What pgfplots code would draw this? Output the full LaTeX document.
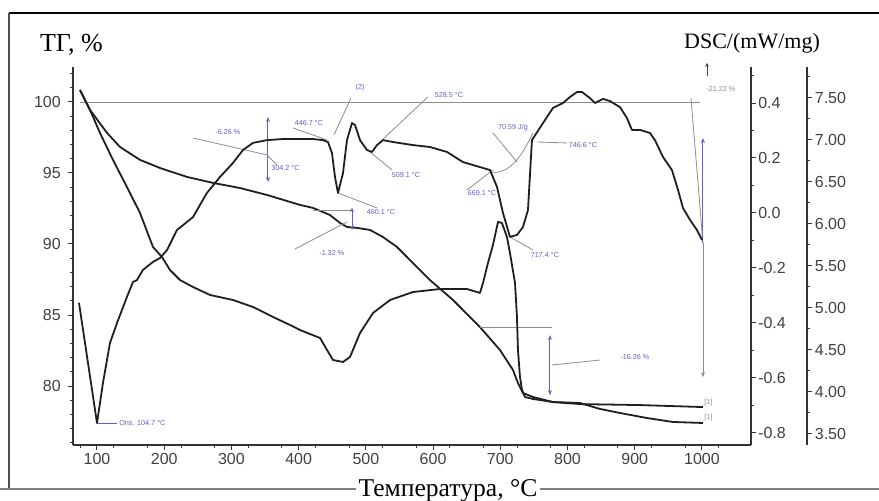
\documentclass[border=0pt]{standalone}
\usepackage{fontspec}
\setmainfont{Liberation Serif}
\setsansfont{Liberation Sans}
\usepackage{pgfplots}
\pgfplotsset{compat=1.18}
\usetikzlibrary{arrows.meta}

\definecolor{curve}{gray}{0.12}
\definecolor{annot}{gray}{0.55}
\definecolor{annblue}{RGB}{95,95,205}
\definecolor{ticktext}{gray}{0.25}

\pgfplotsset{
  tgframe/.style={
    scale only axis, width=339pt, height=189pt,
    at={(36.5pt,28pt)}, anchor=south west,
    xmin=64.3, xmax=1073,
    tick align=outside,
    major tick length=2.6pt, minor tick length=1.4pt,
    tick style={black!80, line width=0.5pt},
    axis line style={-, black!80, line width=0.8pt},
    tick label style={font=\sffamily\fontsize{8}{8}\selectfont, text=ticktext},
    /pgf/number format/assume math mode=true,
    /pgf/number format/1000 sep={},
    clip=false,
  },
  crv/.style={curve, line width=0.9pt, line join=round, no markers},
}
\tikzset{
  ann/.style={annot, line width=0.4pt},
  annb/.style={annblue, line width=0.5pt},
  annt/.style={font=\sffamily\fontsize{3.6}{4}\selectfont, inner sep=0.5pt},
}

\begin{document}
\begin{tikzpicture}[x=0.5pt,y=0.5pt]
\path[use as bounding box] (0,0) rectangle (879,501);

% outer frame
\draw[black, line width=1pt] (9,488) -- (879,488);
\draw[black!70, line width=0.8pt] (9,488) -- (9,12);
\draw[gray, line width=0.6pt] (0,12) -- (879,12);

% ---------- TG axis (left) ----------
\begin{axis}[tgframe,
  ymin=75.85, ymax=102.46,
  axis x line*=bottom, axis y line*=left,
  xtick={100,200,...,1000},
  minor xtick={75,125,...,1050},
  ytick={80,85,90,95,100},
  minor ytick={76,77,...,102},
  xticklabel style={yshift=2pt},
]
% mass loss curve, %
\addplot[crv] coordinates {
(74.7,100.85)(89.6,99.44)(114.9,97.82)(134.2,96.83)(164.0,95.92)(193.7,95.35)
(233.9,94.72)(272.6,94.30)(312.7,93.94)(352.9,93.45)(402.0,92.75)(421.3,92.54)
(446.6,92.04)(461.5,91.48)(471.9,91.20)(486.8,91.13)(506.1,90.99)(525.5,90.49)
(546.3,89.79)(570.1,88.66)(595.4,87.46)(629.6,86.06)(669.8,84.15)(699.5,82.54)
(718.9,81.13)(726.3,80.21)(733.8,79.51)(748.6,79.23)(778.4,78.87)(818.6,78.73)
(907.8,78.66)(1001.5,78.52)
};

% 100 % level and total loss
\draw[ann] (axis cs:74.7,100.0) -- (axis cs:997.1,100.0);
\draw[ann] (axis cs:983.7,100.28) -- (axis cs:1001.5,90.07);
\draw[annb,-{Stealth[length=2.5pt,width=2pt]}] (axis cs:1001.5,90.07) -- (axis cs:1001.5,97.46);
\draw[ann,-{Stealth[length=2.5pt,width=2pt]}] (axis cs:1001.5,90.07) -- (axis cs:1001.5,80.63);
\node[annt, annot, anchor=west] at (axis cs:1004.5,100.92) {-21.22 \%};

% step near 300 C
\draw[annb,{Stealth[length=2.5pt,width=2pt]}-{Stealth[length=2.5pt,width=2pt]}] (axis cs:354.4,98.94) -- (axis cs:354.4,94.37);
\draw[ann] (axis cs:242.8,97.46) -- (axis cs:352.9,96.27) -- (axis cs:367.8,95.56);
\node[annt, annblue] at (axis cs:294.9,97.89) {-6.26 \%};
\node[annt, annblue, anchor=west] at (axis cs:357.4,95.35) {304.2 °C};

% DSC event labels
\node[annt, annblue] at (axis cs:415.4,98.52) {446.7 °C};
\draw[ann] (axis cs:391.6,98.17) -- (axis cs:442.2,97.32);
\draw[ann] (axis cs:452.6,97.68) -- (axis cs:477.9,100.28);
\node[annt, annblue] at (axis cs:491.3,100.99) {(2)};
\node[annt, annblue] at (axis cs:623.7,100.49) {528.5 °C};
\draw[ann] (axis cs:592.4,100.35) -- (axis cs:524.0,97.32);
\node[annt, annblue] at (axis cs:559.7,94.86) {509.1 °C};
\draw[ann] (axis cs:506.1,96.48) -- (axis cs:538.9,95.21);
\node[annt, annblue] at (axis cs:522.5,92.25) {460.1 °C};
\draw[ann] (axis cs:458.5,93.59) -- (axis cs:516.6,92.54);

% step near 460 C
\draw[ann] (axis cs:421.3,92.39) -- (axis cs:479.4,92.39);
\draw[annb,{Stealth[length=2pt,width=2pt]}-{Stealth[length=2pt,width=2pt]}] (axis cs:479.4,92.54) -- (axis cs:479.4,90.99);
\node[annt, annblue] at (axis cs:449.6,89.37) {-1.32 \%};
\draw[ann] (axis cs:471.9,91.55) -- (axis cs:394.6,89.65);

% peak near 700 C
\node[annt, annblue] at (axis cs:672.8,93.59) {669.1 °C};
\draw[ann] (axis cs:689.1,95.21) -- (axis cs:650.4,93.80);
\node[annt, annblue] at (axis cs:718.9,98.17) {70.59 J/g};
\draw[ann] (axis cs:689.1,97.82) -- (axis cs:724.8,95.77);
\draw[ann] (axis cs:684.7,95.07) .. controls (axis cs:700,94.95) and (axis cs:722,95.1) .. (axis cs:748.6,97.82);
\node[annt, annblue] at (axis cs:766.5,89.23) {717.4 °C};
\draw[ann] (axis cs:714.4,90.49) -- (axis cs:748.6,89.58);
\node[annt, annblue] at (axis cs:823.0,96.97) {746.6 °C};
\draw[ann] (axis cs:754.6,97.18) -- (axis cs:799.2,97.11);

% step near 740 C
\draw[ann] (axis cs:669.8,84.15) -- (axis cs:776.9,84.15);
\draw[annb,{Stealth[length=2.5pt,width=2pt]}-{Stealth[length=2.5pt,width=2pt]}] (axis cs:773.9,83.59) -- (axis cs:773.9,79.37);
\draw[ann] (axis cs:776.9,81.48) -- (axis cs:848.3,81.83);
\node[annt, annblue] at (axis cs:900.4,82.04) {-16.26 \%};

% onset of the first endotherm
\draw[annb] (axis cs:100,77.39) -- (axis cs:129.8,77.39);
\node[annt, annblue, anchor=west] at (axis cs:131.2,77.39) {Ons. 104.7 °C};

% curve tags
\node[annt, annot, anchor=west] at (axis cs:1001.5,78.80) {[1]};
\node[annt, annot, anchor=west] at (axis cs:1001.5,77.75) {[1]};

% exo direction
\draw[black!70, line width=0.4pt, -{Stealth[length=2pt,width=2pt]}] (axis cs:1007.5,101.85) -- (axis cs:1007.5,102.75);
\end{axis}

% ---------- DSC axis (right) ----------
\begin{axis}[tgframe,
  ymin=-0.844, ymax=0.531,
  hide x axis, axis y line*=right,
  ytick={-0.8,-0.6,...,0.41},
  minor ytick={-0.7,-0.5,...,0.51},
  yticklabel style={xshift=-2.5pt, /pgf/number format/.cd, fixed, fixed zerofill, precision=1},
]
\addplot[crv] coordinates {
(73.2,-0.327)(100.0,-0.764)(108.9,-0.618)(119.3,-0.473)(129.8,-0.400)(144.6,-0.305)
(153.6,-0.251)(159.5,-0.244)(168.4,-0.207)(183.3,-0.178)(193.7,-0.164)(204.1,-0.135)
(219.0,-0.062)(242.8,-0.015)(263.6,0.073)(283.0,0.131)(302.3,0.182)(317.2,0.229)
(332.1,0.255)(352.9,0.265)(376.7,0.269)(402.0,0.269)(421.3,0.269)(436.2,0.265)
(443.7,0.258)(449.6,0.218)(454.1,0.131)(458.5,0.073)(466.0,0.145)(471.9,0.265)
(479.4,0.327)(483.8,0.320)(491.3,0.265)(501.7,0.229)(509.1,0.222)(516.6,0.247)
(525.5,0.265)(540.4,0.258)(570.1,0.247)(595.4,0.240)(620.7,0.222)(644.5,0.185)
(669.8,0.167)(684.7,0.156)(695.1,0.095)(704.0,0.000)(714.4,-0.087)(724.8,-0.080)
(733.8,-0.051)(741.2,0.011)(747.1,0.265)(763.5,0.327)(778.4,0.382)(793.3,0.400)
(803.7,0.422)(814.1,0.440)(821.5,0.440)(833.4,0.418)(840.9,0.400)(852.8,0.415)
(863.2,0.407)(878.1,0.385)(888.5,0.345)(895.9,0.302)(907.8,0.302)(922.7,0.291)
(930.1,0.265)(942.0,0.204)(955.4,0.156)(964.4,0.084)(971.8,0.018)(982.2,-0.025)
(992.6,-0.062)(1000.1,-0.098)
};
\end{axis}

% ---------- third scale: curve ----------
\begin{axis}[tgframe,
  ymin=3.369, ymax=7.869,
  hide x axis, hide y axis,
]
\addplot[crv] coordinates {
(74.7,7.595)(89.6,7.357)(104.5,7.083)(123.8,6.762)(144.6,6.440)(164.0,6.131)
(183.3,5.726)(196.7,5.607)(208.6,5.452)(223.5,5.333)(242.8,5.250)(268.1,5.155)
(302.3,5.095)(332.1,5.012)(361.8,4.893)(387.1,4.798)(402.0,4.738)(431.8,4.643)
(442.2,4.500)(451.1,4.381)(466.0,4.357)(476.4,4.417)(491.3,4.702)(510.6,4.940)
(535.9,5.095)(570.1,5.190)(610.3,5.226)(650.4,5.226)(665.3,5.190)(669.8,5.179)
(674.3,5.298)(681.7,5.536)(689.1,5.750)(696.6,6.024)(702.5,6.012)(709.9,5.845)
(714.4,5.655)(721.9,5.298)(724.8,4.893)(726.3,4.500)(729.3,4.179)(732.3,4.024)
(736.7,3.940)(748.6,3.917)(778.4,3.881)(818.6,3.869)(848.3,3.798)(878.1,3.750)
(918.2,3.690)(956.9,3.643)(1001.5,3.631)
};
\end{axis}

% its scale, set further right
\begin{axis}[tgframe, at={(64.5pt,28pt)},
  ymin=3.369, ymax=7.869,
  hide x axis, axis y line*=right,
  ytick={3.5,4,...,7.5},
  minor ytick={3.75,4.25,...,7.75},
  yticklabel style={xshift=-2.2pt, /pgf/number format/.cd, fixed, fixed zerofill, precision=2},
]
\end{axis}

% titles
\node[anchor=base west, font=\fontsize{13}{14}\selectfont] at (33,449) {ТГ, \%};
\node[anchor=base, font=\fontsize{11}{12}\selectfont] at (752,452) {DSC/(mW/mg)};
\node[anchor=base, fill=white, inner xsep=1.5pt, inner ysep=1pt, font=\fontsize{12.8}{13}\selectfont] at (448,4) {Температура, °C};
\end{tikzpicture}
\end{document}
